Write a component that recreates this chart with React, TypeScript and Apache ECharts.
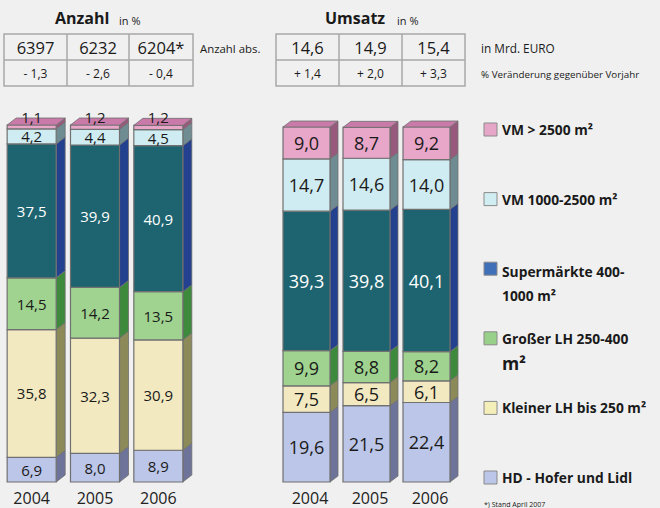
import React, { useEffect, useRef } from "react";
import * as echarts from "echarts";

const years = ["2004", "2005", "2006"];

const seriesNames = [
  "HD - Hofer und Lidl",
  "Kleiner LH bis 250 m²",
  "Großer LH 250-400 m²",
  "Supermärkte 400-1000 m²",
  "VM 1000-2500 m²",
  "VM > 2500 m²",
];

// Anzahl (bottom -> top)
const hdAnzahl = [6.9, 8.0, 8.9];
const kleinAnzahl = [35.8, 32.3, 30.9];
const grossAnzahl = [14.5, 14.2, 13.5];
const superAnzahl = [37.5, 39.9, 40.9];
const vm1000Anzahl = [4.2, 4.4, 4.5];
const vm2500Anzahl = [1.1, 1.2, 1.2];

// Umsatz (bottom -> top)
const hdUmsatz = [19.6, 21.5, 22.4];
const kleinUmsatz = [7.5, 6.5, 6.1];
const grossUmsatz = [9.9, 8.8, 8.2];
const superUmsatz = [39.3, 39.8, 40.1];
const vm1000Umsatz = [14.7, 14.6, 14.0];
const vm2500Umsatz = [9.0, 8.7, 9.2];

// table values
const anzahlAbs = ["6397", "6232", "6204*"];
const anzahlChange = ["- 1,3", "- 2,6", "- 0,4"];
const umsatzAbs = ["14,6", "14,9", "15,4"];
const umsatzChange = ["+ 1,4", "+ 2,0", "+ 3,3"];

const FONT = "'Open Sans', 'Noto Sans', sans-serif";

const frontColors = ["#bcc6e8", "#f2e9c0", "#9fd38f", "#1e6470", "#cfecf2", "#e8a6c8"];
const sideColors = ["#6e7399", "#8c8a58", "#3e8a3c", "#24418f", "#6e8c92", "#985a7c"];
const topColor = "#c97aa8";
const legendColors = ["#bcc6e8", "#f4eeb8", "#98d08a", "#3f70b8", "#d0eef2", "#e6a6c8"];
const textColors = ["#1a1a1a", "#1a1a1a", "#1a1a1a", "#ffffff", "#1a1a1a", "#1a1a1a"];
const EDGE = "#707070";

const fmt = (v: number) => v.toFixed(1).replace(".", ",");

function buildStack(arrs: number[][]) {
  const out: number[][][] = [];
  const cum = years.map(() => 0);
  arrs.forEach((arr) => {
    out.push(
      arr.map((v, i) => {
        const s = cum[i];
        cum[i] += v;
        return [i, s, cum[i], v];
      })
    );
  });
  return out;
}

function makeRender(k: number, isTop: boolean, ratio: number, dx: number, dy: number, fontSize: number, labelDy: number) {
  return (params: any, api: any) => {
    const i = api.value(0);
    const s = api.value(1);
    const e = api.value(2);
    const v = api.value(3);
    const pb = api.coord([i, s]);
    const pt = api.coord([i, e]);
    const band = api.size([1, 0])[0];
    const w = band * ratio;
    const x0 = pb[0] - w / 2;
    const x1 = pb[0] + w / 2;
    const yb = pb[1];
    const yt = pt[1];
    const children: any[] = [
      {
        type: "polygon",
        shape: { points: [[x1, yb], [x1 + dx, yb - dy], [x1 + dx, yt - dy], [x1, yt]] },
        style: { fill: sideColors[k], stroke: EDGE, lineWidth: 0.8 },
      },
      {
        type: "rect",
        shape: { x: x0, y: yt, width: w, height: yb - yt },
        style: { fill: frontColors[k], stroke: EDGE, lineWidth: 1.2 },
      },
    ];
    if (isTop) {
      children.push({
        type: "polygon",
        shape: { points: [[x0, yt], [x0 + dx, yt - dy], [x1 + dx, yt - dy], [x1, yt]] },
        style: { fill: topColor, stroke: EDGE, lineWidth: 0.8 },
      });
    }
    children.push({
      type: "text",
      style: {
        text: fmt(v),
        x: pb[0],
        y: (yb + yt) / 2 + labelDy,
        align: "center",
        verticalAlign: "middle",
        fill: textColors[k],
        fontSize,
        lineHeight: fontSize,
        fontFamily: FONT,
      },
    });
    return { type: "group", children };
  };
}

export default function App() {
  const ref = useRef<HTMLDivElement>(null);

  useEffect(() => {
    if (!ref.current) return;
    const chart = echarts.init(ref.current, undefined, { renderer: "svg" });

    const anzahlStack = buildStack([hdAnzahl, kleinAnzahl, grossAnzahl, superAnzahl, vm1000Anzahl, vm2500Anzahl]);
    const umsatzStack = buildStack([hdUmsatz, kleinUmsatz, grossUmsatz, superUmsatz, vm1000Umsatz, vm2500Umsatz]);

    const series: any[] = [];
    anzahlStack.forEach((data, k) => {
      series.push({
        type: "custom",
        name: seriesNames[k],
        xAxisIndex: 0,
        yAxisIndex: 0,
        data,
        encode: { x: 0, y: [1, 2] },
        renderItem: makeRender(k, k === 5, 0.774, 9, 7, 15, k === 5 ? -10 : 0),
      });
    });
    umsatzStack.forEach((data, k) => {
      series.push({
        type: "custom",
        name: seriesNames[k],
        xAxisIndex: 1,
        yAxisIndex: 1,
        data,
        encode: { x: 0, y: [1, 2] },
        renderItem: makeRender(k, k === 5, 0.783, 8, 6, 18, 0),
      });
    });

    const xAxisCommon = {
      type: "category",
      data: years,
      axisLine: { show: false },
      axisTick: { show: false },
    };

    // Tables
    const graphics: any[] = [];
    const table = (x0: number, colsX: number[], x1: number, row1: string[], row2: string[]) => {
      graphics.push({
        type: "rect",
        shape: { x: x0, y: 34, width: x1 - x0, height: 52 },
        style: { fill: "none", stroke: "#a8a8a8", lineWidth: 1.5 },
      });
      graphics.push({
        type: "line",
        shape: { x1: x0, y1: 60, x2: x1, y2: 60 },
        style: { stroke: "#a8a8a8", lineWidth: 1.5 },
      });
      colsX.forEach((cx) => {
        graphics.push({
          type: "line",
          shape: { x1: cx, y1: 34, x2: cx, y2: 86 },
          style: { stroke: "#a8a8a8", lineWidth: 1.5 },
        });
      });
      const edges = [x0, ...colsX, x1];
      row1.forEach((t, i) => {
        graphics.push({
          type: "text",
          style: {
            text: t,
            x: (edges[i] + edges[i + 1]) / 2,
            y: 47,
            align: "center",
            verticalAlign: "middle",
            fontSize: 16.5,
            fontFamily: FONT,
            fill: "#1a1a1a",
          },
        });
      });
      row2.forEach((t, i) => {
        graphics.push({
          type: "text",
          style: {
            text: t,
            x: (edges[i] + edges[i + 1]) / 2,
            y: 73,
            align: "center",
            verticalAlign: "middle",
            fontSize: 12,
            fontFamily: FONT,
            fill: "#1a1a1a",
          },
        });
      });
    };
    table(4, [67, 129], 193, anzahlAbs, anzahlChange);
    table(276, [339, 402], 465, umsatzAbs, umsatzChange);

    const smallText = (text: string, x: number, y: number, size: number, bold = false) =>
      graphics.push({
        type: "text",
        style: {
          text,
          x,
          y,
          align: "left",
          verticalAlign: "middle",
          fontSize: size,
          fontWeight: bold ? "bold" : "normal",
          fontFamily: FONT,
          fill: "#1a1a1a",
        },
      });

    smallText("Anzahl", 55, 18, 16, true);
    smallText("in %", 119, 20, 11);
    smallText("Umsatz", 325, 18, 16, true);
    smallText("in %", 397, 20, 11);
    smallText("Anzahl abs.", 200, 48, 11.4);
    smallText("in Mrd. EURO", 481, 48, 11.8);
    smallText("% Veränderung gegenüber Vorjahr", 481, 74, 9.8);

    // Legend (top -> bottom)
    const legendOrder = [5, 4, 3, 2, 1, 0];
    const LF = 13.8;
    const legendText: Record<number, any> = {
      5: { text: "VM > 2500 m²" },
      4: { text: "VM 1000-2500 m²" },
      3: { text: "Supermärkte 400-\n1000 m²", lineHeight: 24 },
      2: { text: "{a|Großer LH 250-400}\n{b|m²}" },
      1: { text: "Kleiner LH bis 250 m²" },
      0: { text: "HD - Hofer und Lidl" },
    };
    legendOrder.forEach((k, idx) => {
      const cy = 129.5 + idx * 69.6;
      graphics.push({
        type: "rect",
        shape: { x: 484, y: cy - 6.5, width: 13, height: 13 },
        style: { fill: legendColors[k], stroke: "#8a8a8a", lineWidth: 1 },
      });
      const lt = legendText[k];
      graphics.push({
        type: "text",
        style: {
          text: lt.text,
          x: 502,
          y: cy - 9.5,
          align: "left",
          verticalAlign: "top",
          fontSize: LF,
          fontWeight: "bold",
          fontFamily: FONT,
          fill: "#1a1a1a",
          lineHeight: lt.lineHeight || 19,
          rich: {
            a: { fontSize: LF, fontWeight: "bold", fontFamily: FONT, fill: "#1a1a1a", lineHeight: 19 },
            b: { fontSize: 17.5, fontWeight: "bold", fontFamily: FONT, fill: "#1a1a1a", lineHeight: 30 },
          },
        },
      });
    });

    smallText("*) Stand April 2007", 484, 504, 7);

    chart.setOption({
      animation: false,
      backgroundColor: "#f0f0f0",
      grid: [
        { left: 0, top: 125, width: 190, height: 357 },
        { left: 276.5, top: 127, width: 180, height: 355 },
      ],
      xAxis: [
        {
          ...xAxisCommon,
          gridIndex: 0,
          axisLabel: { fontSize: 16, color: "#222", fontFamily: FONT, margin: 8 },
        },
        {
          ...xAxisCommon,
          gridIndex: 1,
          axisLabel: { fontSize: 16, color: "#222", fontFamily: FONT, margin: 8, padding: [0, 0, 0, 7] },
        },
      ],
      yAxis: [
        { type: "value", gridIndex: 0, min: 0, max: 100, show: false },
        { type: "value", gridIndex: 1, min: 0, max: 100, show: false },
      ],
      series,
      graphic: graphics,
    });

    return () => chart.dispose();
  }, []);

  return (
    <div
      ref={ref}
      style={{ position: "absolute", left: 0, top: 0, width: 660, height: 508 }}
    />
  );
}
